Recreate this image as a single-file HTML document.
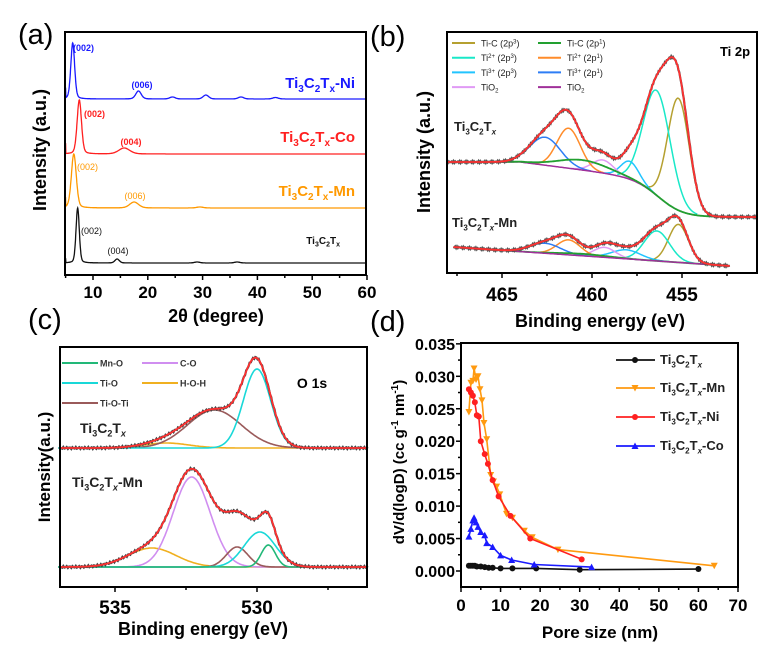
<!DOCTYPE html>
<html><head><meta charset="utf-8">
<style>
html,body{margin:0;padding:0;background:#fff;}
svg{display:block;font-family:"Liberation Sans",Arial,sans-serif;}
.b{font-weight:bold;}
</style></head>
<body>
<svg id="s" width="778" height="659" viewBox="0 0 778 659" xmlns="http://www.w3.org/2000/svg">
<defs><clipPath id="cb"><rect x="447" y="32" width="310" height="241"/></clipPath></defs>
<rect width="778" height="659" fill="#fff"/>
<text x="18" y="44" font-size="29">(a)</text>
<text x="370" y="46" font-size="29">(b)</text>
<text x="28" y="329" font-size="29">(c)</text>
<text x="370" y="331" font-size="29">(d)</text>
<text class="b" font-size="18" transform="translate(46,150) rotate(-90)" text-anchor="middle">Intensity (a.u.)</text>
<text class="b" font-size="18" x="216" y="322" text-anchor="middle">2θ (degree)</text>
<text class="b" font-size="18" transform="translate(430,152) rotate(-90)" text-anchor="middle">Intensity (a.u.)</text>
<text class="b" font-size="18" x="600" y="327" text-anchor="middle">Binding energy (eV)</text>
<text class="b" font-size="17" transform="translate(50,467) rotate(-90)" text-anchor="middle">Intensity(a.u.)</text>
<text class="b" font-size="18" x="203" y="635" text-anchor="middle">Binding energy (eV)</text>
<text class="b" font-size="15" transform="translate(404,462) rotate(-90)" text-anchor="middle">dV/d(logD) (cc g<tspan dy="-6" font-size="10">-1</tspan><tspan dy="6"> nm</tspan><tspan dy="-6" font-size="10">-1</tspan><tspan dy="6">)</tspan></text>
<text class="b" font-size="17" x="600" y="638" text-anchor="middle">Pore size (nm)</text>
<g id="g"></g>
</svg>
<script>
var G=document.getElementById('g'),out='';
function P(pts){return pts.map(function(p,i){return (i?'L':'M')+p[0].toFixed(1)+' '+p[1].toFixed(1)}).join('');}
function line(pts,c,w,extra){out+='<path d="'+P(pts)+'" fill="none" stroke="'+c+'" stroke-width="'+(w||1.5)+'" '+(extra||'')+'/>';}
function txt(x,y,s,sz,c,anchor,bold){out+='<text x="'+x+'" y="'+y+'" font-size="'+sz+'" fill="'+(c||'#000')+'"'+(anchor?' text-anchor="'+anchor+'"':'')+(bold?' font-weight="bold"':'')+'>'+s+'</text>';}
function g(x,m,s){return Math.exp(-(x-m)*(x-m)/(2*s*s));}
function TI(sz,c,x,y,suf,anchor,it){
 var sub=Math.round(sz*0.65);
 out+='<text x="'+x+'" y="'+y+'" font-size="'+sz+'" font-weight="bold" fill="'+c+'"'+(anchor?' text-anchor="'+anchor+'"':'')+'>Ti<tspan dy="'+(sz*0.25)+'" font-size="'+sub+'">3</tspan><tspan dy="'+(-sz*0.25)+'">C</tspan><tspan dy="'+(sz*0.25)+'" font-size="'+sub+'">2</tspan><tspan dy="'+(-sz*0.25)+'">T</tspan><tspan dy="'+(sz*0.25)+'" font-size="'+sub+'"'+(it?' font-style="italic"':'')+'>x</tspan><tspan dy="'+(-sz*0.25)+'">'+(suf||'')+'</tspan></text>';
}
/* ---------- panel a ---------- */
(function(){
 var L=65,R=366,T=32,B=275;
 function X(d){return 93+(d-10)*5.48;}
 var specs=[
  {c:'#1a1aff',base:99,pk:[[6.3,56,0.35],[18.3,8,0.5],[24.5,2,0.5],[30.6,4,0.5],[37,2,0.5],[43.3,1.5,0.5]],st:80},
  {c:'#ff2020',base:154,pk:[[7.5,54,0.4],[15.7,6,1.0]],st:136},
  {c:'#ff9900',base:208,pk:[[6.5,54,0.45],[17.5,6,0.8],[29.5,1,0.6]],st:190},
  {c:'#111',base:263,pk:[[7.2,55,0.3],[14.4,4,0.4],[29,1,0.5],[36.3,1,0.5]],st:255}
 ];
 specs.forEach(function(s){
  var pts=[];
  for(var d=5;d<=60;d+=0.05){var y=s.base;
   s.pk.forEach(function(p){y-=p[1]*(0.75*g(d,p[0],p[2])+0.25/(1+Math.pow((d-p[0])/(p[2]*1.2),2)));});
   pts.push([X(d),y]);}
  pts[0][1]=s.base-(s.base-s.st)*0.6;
  line(pts,s.c,1.3);
 });
 out+='<rect x="'+L+'" y="'+T+'" width="'+(R-L)+'" height="'+(B-T)+'" fill="none" stroke="#000" stroke-width="2"/>';
 for(var d=5;d<=60;d+=5){var x=X(d);out+='<line x1="'+x+'" y1="'+B+'" x2="'+x+'" y2="'+(B+(d%10?3:5))+'" stroke="#000" stroke-width="1.5"/>';
  if(d%10==0) txt(x,298,d,17,'#000','middle',true);}
 txt(73,51,'(002)',9,'#1a1aff','start',true);
 txt(142,88,'(006)',9,'#1a1aff','middle',true);
 txt(84,117,'(002)',9,'#ff2020','start',true);
 txt(131,145,'(004)',9,'#ff2020','middle',true);
 txt(77,170,'(002)',9,'#ff9900','start',false);
 txt(135,199,'(006)',9,'#ff9900','middle',false);
 txt(81,234,'(002)',9,'#111','start',false);
 txt(118,254,'(004)',9,'#111','middle',false);
 TI(15,'#1a1aff',355,88,'-Ni','end');
 TI(15,'#ff2020',355,142,'-Co','end');
 TI(15,'#ff9900',355,196,'-Mn','end');
 TI(10,'#111',340,244,'','end');
})();
/* ---------- panel b ---------- */
(function(){
 var L=447,R=757,T=32,B=273;
 function X(e){return 502+(465-e)*18;}
 function bTop(e){var b=162+Math.max(0,464-e)*2.3; if(b>185)b=185; var s=1/(1+Math.exp((e-456.2)/0.7)); return b+(217-b)*s;}
 var pT=[[455.2,112,0.6,'#b5a030'],[456.4,105,0.75,'#19e8c8'],[457.9,18,0.5,'#22c4ff'],[459.4,13,0.6,'#e09af5'],[461.3,40,0.65,'#ff8c2a'],[462.6,28,0.85,'#2e7df5']];
 var pB=[[455.2,38,0.55,'#b5a030'],[456.4,30,0.7,'#19e8c8'],[458.1,9,0.8,'#22c4ff'],[459.3,10,0.6,'#e09af5'],[461.3,15,0.65,'#ff8c2a'],[462.6,10,0.85,'#2e7df5']];
 function bBot(e){return 247+(467.7-e)*(19/15.4);}
 out+='<g clip-path="url(#cb)">';
 function draw(pk,bg,e0,e1,green,gh,purpleTop){
  var env=[];
  pk.forEach(function(p){var pts=[];for(var e=p[0]-3*p[2];e<=p[0]+3*p[2];e+=0.05){pts.push([X(e),bg(e)-p[1]*g(e,p[0],p[2])]);}line(pts,p[3],1.5);});
  var pp=[],gp=[];
  for(var e=e0;e>=e1;e-=0.05){pp.push([X(e),bg(e)]);gp.push([X(e),bg(e)-gh*g(e,460.5,1.4)]);
   var y=bg(e)-gh*g(e,460.5,1.4);pk.forEach(function(p){y-=p[1]*g(e,p[0],p[2]);});env.push([X(e),y]);}
  if(purpleTop) line(pp,'#a0309a',1.5);
  line(gp,green,1.8);
  if(!purpleTop) line(pp,'#a0309a',1.5);
  var noisy=env.map(function(p,i){return [p[0],p[1]+Math.sin(i*2.7)*0.9];});
  line(noisy,'#555',2.2);
  line(env,'#ff3030',1.8);
 }
 draw(pT,bTop,470,450.5,'#22a030',10,true);
 draw(pB,bBot,467.7,452.3,'#22a030',2,false);
 out+='</g>';
 out+='<rect x="'+L+'" y="'+T+'" width="'+(R-L)+'" height="'+(B-T)+'" fill="none" stroke="#000" stroke-width="2"/>';
 for(var e=467.5;e>=450;e-=2.5){var x=X(e);if(x<L||x>R)continue;out+='<line x1="'+x+'" y1="'+B+'" x2="'+x+'" y2="'+(B+(e%5?3:5))+'" stroke="#000" stroke-width="1.5"/>';
  if(e%5==0) txt(x,301,e,19,'#000','middle',true);}
 var leg=[['#b5a030','Ti-C (2p<tspan dy="-3" font-size="6">3</tspan><tspan dy="3">)</tspan>'],['#22a030','Ti-C (2p<tspan dy="-3" font-size="6">1</tspan><tspan dy="3">)</tspan>'],
  ['#19e8c8','Ti<tspan dy="-3" font-size="6">2+</tspan><tspan dy="3"> (2p</tspan><tspan dy="-3" font-size="6">3</tspan><tspan dy="3">)</tspan>'],['#ff8c2a','Ti<tspan dy="-3" font-size="6">2+</tspan><tspan dy="3"> (2p</tspan><tspan dy="-3" font-size="6">1</tspan><tspan dy="3">)</tspan>'],
  ['#22c4ff','Ti<tspan dy="-3" font-size="6">3+</tspan><tspan dy="3"> (2p</tspan><tspan dy="-3" font-size="6">3</tspan><tspan dy="3">)</tspan>'],['#2e7df5','Ti<tspan dy="-3" font-size="6">3+</tspan><tspan dy="3"> (2p</tspan><tspan dy="-3" font-size="6">1</tspan><tspan dy="3">)</tspan>'],
  ['#e09af5','TiO<tspan dy="2" font-size="6">2</tspan>'],['#a0309a','TiO<tspan dy="2" font-size="6">2</tspan>']];
 leg.forEach(function(l,i){var col=i%2,row=Math.floor(i/2);var y=43+row*14.7;var x0=col?538:452;
  out+='<line x1="'+x0+'" y1="'+y+'" x2="'+(x0+23)+'" y2="'+y+'" stroke="'+l[0]+'" stroke-width="2"/>';
  txt(x0+29,y+3.5,l[1],9,'#222');});
 txt(735,56,'Ti 2p',13,'#000','middle',true);
 TI(13,'#222',454,131,'','start',true);
 TI(13,'#222',452,227,'-Mn','start',true);
})();
/* ---------- panel c ---------- */
(function(){
 var L=60,R=367,T=347,B=587;
 function X(e){return 115+(535-e)*28.4;}
 function spec(base,pk,hid){
  var env=[];
  pk.forEach(function(p){var pts=[];for(var e=537;e>=526.1;e-=0.04){pts.push([X(e),base-p[1]*g(e,p[0],p[2])]);}line(pts,p[3],1.6);});
  var all=pk.concat(hid||[]);
  for(var e=536.9;e>=526.1;e-=0.04){var y=base;all.forEach(function(p){y-=p[1]*g(e,p[0],p[2]);});env.push([X(e),y]);}
  line(env.map(function(p,i){return [p[0],p[1]+Math.sin(i*2.3)*1.0];}),'#444',2.2);
  line(env,'#ff3030',1.8);
 }
 spec(448,[[533.2,5,0.8,'#f0b020'],[531.5,38,0.95,'#9a5a5a'],[530.0,79,0.48,'#19d8d8']]);
 spec(567,[[533.7,19,0.85,'#f0b020'],[532.3,90,0.65,'#d08ef0'],[530.7,20,0.38,'#9a5a5a'],[529.9,35,0.55,'#19d8d8'],[529.6,22,0.25,'#22b878']],[[531.1,24,0.6]]);
 out+='<rect x="'+L+'" y="'+T+'" width="'+(R-L)+'" height="'+(B-T)+'" fill="none" stroke="#000" stroke-width="2"/>';
 for(var e=535;e>=527;e-=2.5){var x=X(e);out+='<line x1="'+x+'" y1="'+B+'" x2="'+x+'" y2="'+(B+(e%5?3:5))+'" stroke="#000" stroke-width="1.5"/>';
  if(e%5==0) txt(x,614,e,19,'#000','middle',true);}
 var leg=[['#22b878','Mn-O',62,363],['#d08ef0','C-O',142,363],['#19d8d8','Ti-O',62,383],['#f0b020','H-O-H',142,383],['#9a5a5a','Ti-O-Ti',62,403]];
 leg.forEach(function(l){out+='<line x1="'+l[2]+'" y1="'+l[3]+'" x2="'+(l[2]+36)+'" y2="'+l[3]+'" stroke="'+l[0]+'" stroke-width="2"/>';txt(l[2]+38,l[3]+3.5,l[1],9,'#333','start',true);});
 txt(312,388,'O 1s',14,'#000','middle',true);
 TI(14,'#222',80,433,'','start',true);
 TI(14,'#222',72,487,'-Mn','start',true);
})();
/* ---------- panel d ---------- */
(function(){
 var L=461,R=738,T=343,B=587;
 function X(v){return 461+v*3.957;}
 function Y(v){return 571-v*6490;}
 var K=[[2,.0008],[2.5,.0008],[3,.0008],[3.5,.0008],[4,.0007],[5,.0007],[6,.0006],[7,.0005],[8,.0005],[10,.0004],[13,.0004],[19,.0004],[30,.0002],[60,.0003]];
 var M=[[2,.0245],[2.5,.029],[3,.0293],[3.3,.0312],[3.8,.0295],[4.3,.030],[4.8,.028],[5.3,.0263],[5.8,.0228],[6.5,.0203],[7.5,.0148],[8.2,.0138],[9,.013],[9.8,.0118],[11.5,.0088],[13,.0082],[16,.0062],[18,.0052],[24.5,.0033],[64,.0008]];
 var N=[[2,.028],[2.5,.0275],[3,.027],[3.5,.026],[4,.024],[4.5,.0238],[5,.020],[6,.018],[6.8,.0165],[8,.014],[9.5,.0115],[12.5,.0085],[17.5,.005],[30.5,.0018]];
 var C=[[2,.0053],[2.5,.0065],[3,.0078],[3.3,.0082],[3.8,.0075],[4.3,.0068],[5,.006],[6,.0055],[6.5,.0043],[8,.0037],[10,.0024],[12.8,.0017],[18.5,.001],[33,.0006]];
 function mk(t,x,y,c){if(t=='o')out+='<circle cx="'+x+'" cy="'+y+'" r="3" fill="'+c+'"/>';
  else if(t=='v')out+='<path d="M'+(x-3.5)+' '+(y-3)+'L'+(x+3.5)+' '+(y-3)+'L'+x+' '+(y+3.5)+'Z" fill="'+c+'"/>';
  else out+='<path d="M'+(x-3.5)+' '+(y+3)+'L'+(x+3.5)+' '+(y+3)+'L'+x+' '+(y-3.5)+'Z" fill="'+c+'"/>';}
 function ser(d,c,t){var pts=d.map(function(p){return [X(p[0]),Y(p[1])];});line(pts,c,1.6);pts.forEach(function(p){mk(t,p[0],p[1],c);});}
 ser(K,'#111','o');ser(C,'#1a1aff','^');ser(M,'#ff9a10','v');ser(N,'#ff2020','o');
 out+='<rect x="'+L+'" y="'+T+'" width="'+(R-L)+'" height="'+(B-T)+'" fill="none" stroke="#000" stroke-width="2"/>';
 for(var v=0;v<=70;v+=5){var x=X(v);out+='<line x1="'+x+'" y1="'+B+'" x2="'+x+'" y2="'+(B+(v%10?3:5))+'" stroke="#000" stroke-width="1.5"/>';
  if(v%10==0) txt(x,611,v,17,'#000','middle',true);}
 for(var i=-1;i<=14;i++){var v=i*0.0025,y=Y(v);if(y<T||y>B)continue;out+='<line x1="'+L+'" y1="'+y+'" x2="'+(L-(i%2?3:5))+'" y2="'+y+'" stroke="#000" stroke-width="1.5"/>';
  if(i%2==0&&i>=0) txt(L-6,y+6,v.toFixed(3),16,'#000','end',true);}
 var leg=[['#111','o','',360],['#ff9a10','v','-Mn',388],['#ff2020','o','-Ni',417],['#1a1aff','^','-Co',446]];
 leg.forEach(function(l){out+='<line x1="616" y1="'+l[3]+'" x2="655" y2="'+l[3]+'" stroke="'+l[0]+'" stroke-width="1.8"/>';mk(l[1],635,l[3],l[0]);TI(13,'#222',660,l[3]+4,l[2],'start',true);});
})();
G.innerHTML=out;
</script>
</body></html>
